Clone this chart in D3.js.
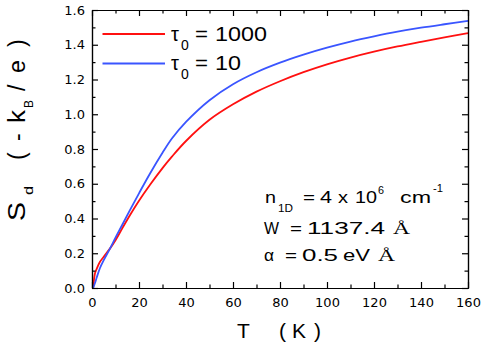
<!DOCTYPE html>
<html>
<head>
<meta charset="utf-8">
<script src="https://cdn.jsdelivr.net/npm/d3@7/dist/d3.min.js"></script>
<style>
  body { margin: 0; background: #fff; }
  svg { display: block; font-family: "Liberation Sans", Arial, sans-serif; }
  .axis path, .axis line { stroke: #000; stroke-width: 1.2; }
</style>
</head>
<body>
<svg width="485" height="346"></svg>
<script>
"use strict";

// temperature T (K) sampled along the curves
const temps = [0.5, 1.3, 2, 3.4, 5, 7.7, 10, 13, 16.2, 20, 24.7, 30, 34, 40, 50, 60, 70, 80, 90, 100, 110, 120, 130, 140, 150, 160];
// S_d for tau0 = 1000 (red)
const tau1000 = [0, 0.086, 0.11, 0.151, 0.18, 0.228, 0.275, 0.346, 0.42, 0.502, 0.594, 0.69, 0.756, 0.846, 0.968, 1.057, 1.13, 1.19, 1.242, 1.287, 1.326, 1.36, 1.39, 1.417, 1.443, 1.467];
// S_d for tau0 = 10 (blue)
const tau10 = [0, 0.03, 0.06, 0.115, 0.16, 0.228, 0.29, 0.367, 0.45, 0.545, 0.659, 0.778, 0.86, 0.956, 1.081, 1.173, 1.242, 1.297, 1.343, 1.383, 1.418, 1.448, 1.475, 1.498, 1.518, 1.537];

const xMajor = [0, 20, 40, 60, 80, 100, 120, 140, 160];
const xMinor = [10, 30, 50, 70, 90, 110, 130, 150];
const yMajor = [0, 0.2, 0.4, 0.6, 0.8, 1.0, 1.2, 1.4, 1.6];
const yMinor = [0.1, 0.3, 0.5, 0.7, 0.9, 1.1, 1.3, 1.5];

const seriesNames = ["1000", "10"];
const seriesColors = ["#ff1010", "#3a55ff"];

const svg = d3.select("svg");
const width = +svg.attr("width");
const height = +svg.attr("height");
const margin = { top: 10, right: 17, bottom: 58, left: 92 };
const innerWidth = width - margin.left - margin.right;
const innerHeight = height - margin.top - margin.bottom;

const xScale = d3.scaleLinear().domain([0, 160]).range([0, innerWidth]);
const yScale = d3.scaleLinear().domain([0, 1.6]).range([innerHeight, 0]);

const g = svg.append("g").attr("transform", `translate(${margin.left},${margin.top})`);

// curves
const series = [tau1000, tau10];
const line = d3.line()
  .x(d => xScale(d[0]))
  .y(d => yScale(d[1]))
  .curve(d3.curveCatmullRom.alpha(0.5));

series.forEach((vals, i) => {
  g.append("path")
    .datum(temps.map((t, j) => [t, vals[j]]))
    .attr("fill", "none")
    .attr("stroke", seriesColors[i])
    .attr("stroke-width", 1.8)
    .attr("d", line);
});

// axes: inward ticks on all four sides
const addAxis = (axis, transform, labels) => {
  const ag = g.append("g")
    .attr("class", "axis")
    .attr("transform", transform)
    .call(axis)
    .attr("font-family", "DejaVu Sans, sans-serif")
    .attr("font-size", 13);
  if (!labels) ag.selectAll("text").remove();
  ag.selectAll("text").attr("fill", "#000");
  return ag;
};

addAxis(d3.axisBottom(xScale).tickValues(xMajor).tickSizeInner(-6).tickSizeOuter(0).tickPadding(10).tickFormat(d3.format("d")), `translate(0,${innerHeight})`, true);
addAxis(d3.axisBottom(xScale).tickValues(xMinor).tickSizeInner(-3.5).tickSizeOuter(0), `translate(0,${innerHeight})`, false);
addAxis(d3.axisTop(xScale).tickValues(xMajor).tickSizeInner(-6).tickSizeOuter(0), "translate(0,0)", false);
addAxis(d3.axisTop(xScale).tickValues(xMinor).tickSizeInner(-3.5).tickSizeOuter(0), "translate(0,0)", false);

addAxis(d3.axisLeft(yScale).tickValues(yMajor).tickSizeInner(-6).tickSizeOuter(0).tickPadding(7).tickFormat(d3.format(".1f")), "translate(0,0)", true);
addAxis(d3.axisLeft(yScale).tickValues(yMinor).tickSizeInner(-3.5).tickSizeOuter(0), "translate(0,0)", false);
addAxis(d3.axisRight(yScale).tickValues(yMajor).tickSizeInner(-6).tickSizeOuter(0), `translate(${innerWidth},0)`, false);
addAxis(d3.axisRight(yScale).tickValues(yMinor).tickSizeInner(-3.5).tickSizeOuter(0), `translate(${innerWidth},0)`, false);

// one text line built from positioned runs: [str, x, y, size, stretchedWidth, family]
const textLine = (parent, runs, attrs = {}) => {
  const t = parent.append("text").attr("fill", "#000");
  Object.entries(attrs).forEach(([k, v]) => t.attr(k, v));
  runs.forEach(([str, x, y, size, len, family]) => {
    const s = t.append("tspan")
      .attr("x", x).attr("y", y)
      .attr("font-size", size)
      .text(str);
    if (len) s.attr("textLength", len).attr("lengthAdjust", "spacingAndGlyphs");
    if (family) s.attr("font-family", family);
  });
  return t;
};

// legend
const legendRows = [34, 63.5];
seriesNames.forEach((name, i) => {
  const ly = legendRows[i];
  svg.append("line")
    .attr("x1", 102.5).attr("x2", 165)
    .attr("y1", ly).attr("y2", ly)
    .attr("stroke", seriesColors[i])
    .attr("stroke-width", 1.8);
  textLine(svg, [
    ["\u03c4", 171, ly + 6.5, 20],
    ["0", 181, ly + 15.5, 14],
    ["=", 195, ly + 6.5, 20, 13],
    [name, 215, ly + 6.5, 20.5, name.length * 13]
  ]);
});

// annotation
const serif = "Liberation Serif, serif";
textLine(svg, [
  ["n", 265, 203, 16, 11],
  ["1D", 278, 212, 11, 15],
  ["=", 303, 203, 16, 12],
  ["4", 320, 203, 16, 12],
  ["x", 338, 203, 16, 10],
  ["10", 355, 203, 16, 22],
  ["6", 378, 194, 11, 6],
  ["cm", 400, 203, 16, 31],
  ["-1", 433, 192, 11, 10]
]);
textLine(svg, [
  ["W", 264, 234, 16, 15],
  ["=", 290, 234, 16, 12],
  ["1137.4", 307, 234, 16, 78],
  ["\u00c5", 393, 234, 17, 17, serif]
]);
textLine(svg, [
  ["\u03b1", 264, 261, 16, 10],
  ["=", 285, 261, 16, 12],
  ["0.5", 302, 261, 16, 36],
  ["eV", 343, 261, 16, 27],
  ["\u00c5", 378, 261, 17, 17, serif]
]);

// x axis title
textLine(svg, [
  ["T", 237, 338, 21],
  ["(", 279, 338, 21],
  ["K", 292, 338, 21],
  [")", 314, 338, 21]
]);

// y axis title, rotated; runs are placed along the text direction
textLine(svg, [
  ["S", 0, 0, 23, 19],
  ["d", 26, 8, 12, 9],
  ["(", 61, 0, 23],
  ["-", 80, 0, 23],
  ["k", 98, 0, 23, 13],
  ["B", 113, 8, 12, 8],
  ["/", 130, 0, 23],
  ["e", 148, 0, 23, 13],
  [")", 174, 0, 23]
], { transform: "translate(25,221) rotate(-90)" });
</script>
</body>
</html>
